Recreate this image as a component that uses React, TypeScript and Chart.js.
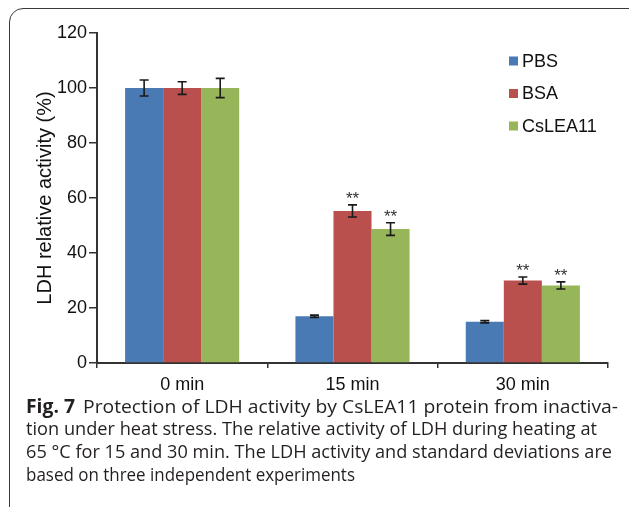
import React, { useEffect, useRef } from "react";
import { Chart, registerables } from "chart.js";

Chart.register(...registerables);

// ---------- data ----------
const categories = ["0 min", "15 min", "30 min"];
const seriesNames = ["PBS", "BSA", "CsLEA11"];
const pbsValues = [100, 17.0, 15.0];
const bsaValues = [100, 55.3, 30.0];
const csleaValues = [100, 48.7, 28.2];
const pbsErrors = [2.9, 0.4, 0.4];
const bsaErrors = [2.3, 2.2, 1.3];
const csleaErrors = [3.5, 2.3, 1.3];
const pbsMarks = ["", "", ""];
const bsaMarks = ["", "**", "**"];
const csleaMarks = ["", "**", "**"];
const yMin = 0;
const yMax = 120;
const yStep = 20;
const yTitle = "LDH relative activity (%)";
const captionBold = "Fig. 7";
const captionLines = [
  "Protection of LDH activity by CsLEA11 protein from inactiva-",
  "tion under heat stress. The relative activity of LDH during heating at",
  "65 °C for 15 and 30 min. The LDH activity and standard deviations are",
  "based on three independent experiments",
];

// ---------- styles ----------
const colors = ["#4A7AB4", "#B9504D", "#97B659"];
const FONT = "'Liberation Sans', Arial, Helvetica, sans-serif";
const captionTargets = [592, 571, 586, 329];
const captionLineHeight = 22.7;

const valueSets = [pbsValues, bsaValues, csleaValues];
const errorSets = [pbsErrors, bsaErrors, csleaErrors];
const markSets = [pbsMarks, bsaMarks, csleaMarks];

const errorBarPlugin = {
  id: "errorBars",
  afterDatasetsDraw(chart: any) {
    const ctx = chart.ctx;
    const ys = chart.scales.y;
    chart.data.datasets.forEach((ds: any, di: number) => {
      const meta = chart.getDatasetMeta(di);
      const errs = errorSets[di];
      const marks = markSets[di];
      meta.data.forEach((bar: any, i: number) => {
        const v = ds.data[i];
        const e = errs[i];
        const x = bar.x;
        const yTop = ys.getPixelForValue(v + e);
        const yBot = ys.getPixelForValue(v - e);
        ctx.save();
        ctx.strokeStyle = "#1a1a1a";
        ctx.lineWidth = 1.6;
        ctx.beginPath();
        ctx.moveTo(x, yTop);
        ctx.lineTo(x, yBot);
        ctx.moveTo(x - 4.5, yTop);
        ctx.lineTo(x + 4.5, yTop);
        ctx.moveTo(x - 4.5, yBot);
        ctx.lineTo(x + 4.5, yBot);
        ctx.stroke();
        if (marks[i]) {
          ctx.fillStyle = "#333";
          ctx.font = "17px " + FONT;
          ctx.textAlign = "center";
          ctx.textBaseline = "alphabetic";
          ctx.fillText(marks[i], x, yTop - 0.5);
        }
        ctx.restore();
      });
    });
  },
};

const legendPlugin = {
  id: "customLegend",
  afterDraw(chart: any) {
    const ctx = chart.ctx;
    const x0 = 509;
    const yStart = 61;
    const gap = 32.5;
    ctx.save();
    seriesNames.forEach((name, i) => {
      const cy = yStart + i * gap;
      ctx.fillStyle = colors[i];
      ctx.fillRect(x0, cy - 4.5, 9, 9);
      ctx.fillStyle = "#111";
      ctx.font = "18px " + FONT;
      ctx.textAlign = "left";
      ctx.textBaseline = "middle";
      ctx.fillText(name, x0 + 13, cy + 1);
    });
    ctx.restore();
  },
};

export default function App() {
  const canvasRef = useRef<HTMLCanvasElement | null>(null);
  const lineRefs = useRef<(HTMLDivElement | null)[]>([]);

  useEffect(() => {
    const canvas = canvasRef.current;
    if (!canvas) return;
    const chart = new Chart(canvas, {
      type: "bar",
      data: {
        labels: categories,
        datasets: seriesNames.map((name, i) => ({
          label: name,
          data: valueSets[i],
          backgroundColor: colors[i],
          borderWidth: 0,
          categoryPercentage: 0.67,
          barPercentage: 1.0,
        })),
      },
      options: {
        animation: false,
        responsive: false,
        devicePixelRatio: 1,
        layout: { padding: { left: 0, top: 33, right: 21, bottom: 0 } },
        plugins: {
          legend: { display: false },
          tooltip: { enabled: false },
          title: { display: false },
        },
        scales: {
          x: {
            grid: {
              offset: true,
              drawOnChartArea: false,
              drawTicks: true,
              tickLength: 5,
              color: "#333",
              lineWidth: 1.5,
            },
            border: { color: "#333", width: 2 },
            ticks: { color: "#111", font: { size: 18, family: FONT }, padding: 6 },
            afterFit: (s: any) => {
              s.height = 37;
            },
          },
          y: {
            min: yMin,
            max: yMax,
            ticks: { stepSize: yStep, color: "#111", font: { size: 18, family: FONT }, padding: 2 },
            grid: {
              drawOnChartArea: false,
              drawTicks: true,
              tickLength: 8,
              color: "#333",
              lineWidth: 1.5,
            },
            border: { color: "#333", width: 2 },
            title: {
              display: true,
              text: yTitle,
              color: "#111",
              font: { size: 20, family: FONT },
              padding: { top: 33, bottom: 0 },
            },
            afterFit: (s: any) => {
              s.width = 97;
            },
          },
        },
      },
      plugins: [errorBarPlugin, legendPlugin],
    });

    lineRefs.current.forEach((el, i) => {
      if (!el) return;
      el.style.transform = "none";
      const w = el.getBoundingClientRect().width;
      if (w > 0) el.style.transform = `scaleX(${captionTargets[i] / w})`;
    });

    return () => chart.destroy();
  }, []);

  return (
    <div
      style={{
        position: "absolute",
        left: 0,
        top: 0,
        width: 629,
        height: 507,
        overflow: "hidden",
        background: "#fff",
      }}
    >
      <div
        style={{
          position: "absolute",
          left: 9,
          top: 8,
          width: 640,
          height: 700,
          border: "1.6px solid #3a3a3a",
          borderRadius: 14,
          boxSizing: "border-box",
        }}
      />
      <canvas
        ref={canvasRef}
        width={629}
        height={400}
        style={{ position: "absolute", left: 0, top: 0, width: 629, height: 400 }}
      />
      <div
        style={{
          position: "absolute",
          left: 26,
          top: 394.5,
          fontFamily: "'Open Sans', 'Noto Sans', sans-serif",
          fontSize: 19,
          lineHeight: captionLineHeight + "px",
          color: "#231f20",
          whiteSpace: "nowrap",
        }}
      >
        {captionLines.map((line, i) => (
          <div
            key={i}
            ref={(el) => {
              lineRefs.current[i] = el;
            }}
            style={{
              display: "inline-block",
              transformOrigin: "0 0",
              position: "absolute",
              left: 0,
              top: i * captionLineHeight,
            }}
          >
            {i === 0 ? <b style={{ marginRight: 8 }}>{captionBold}</b> : null}
            {line}
          </div>
        ))}
      </div>
    </div>
  );
}
